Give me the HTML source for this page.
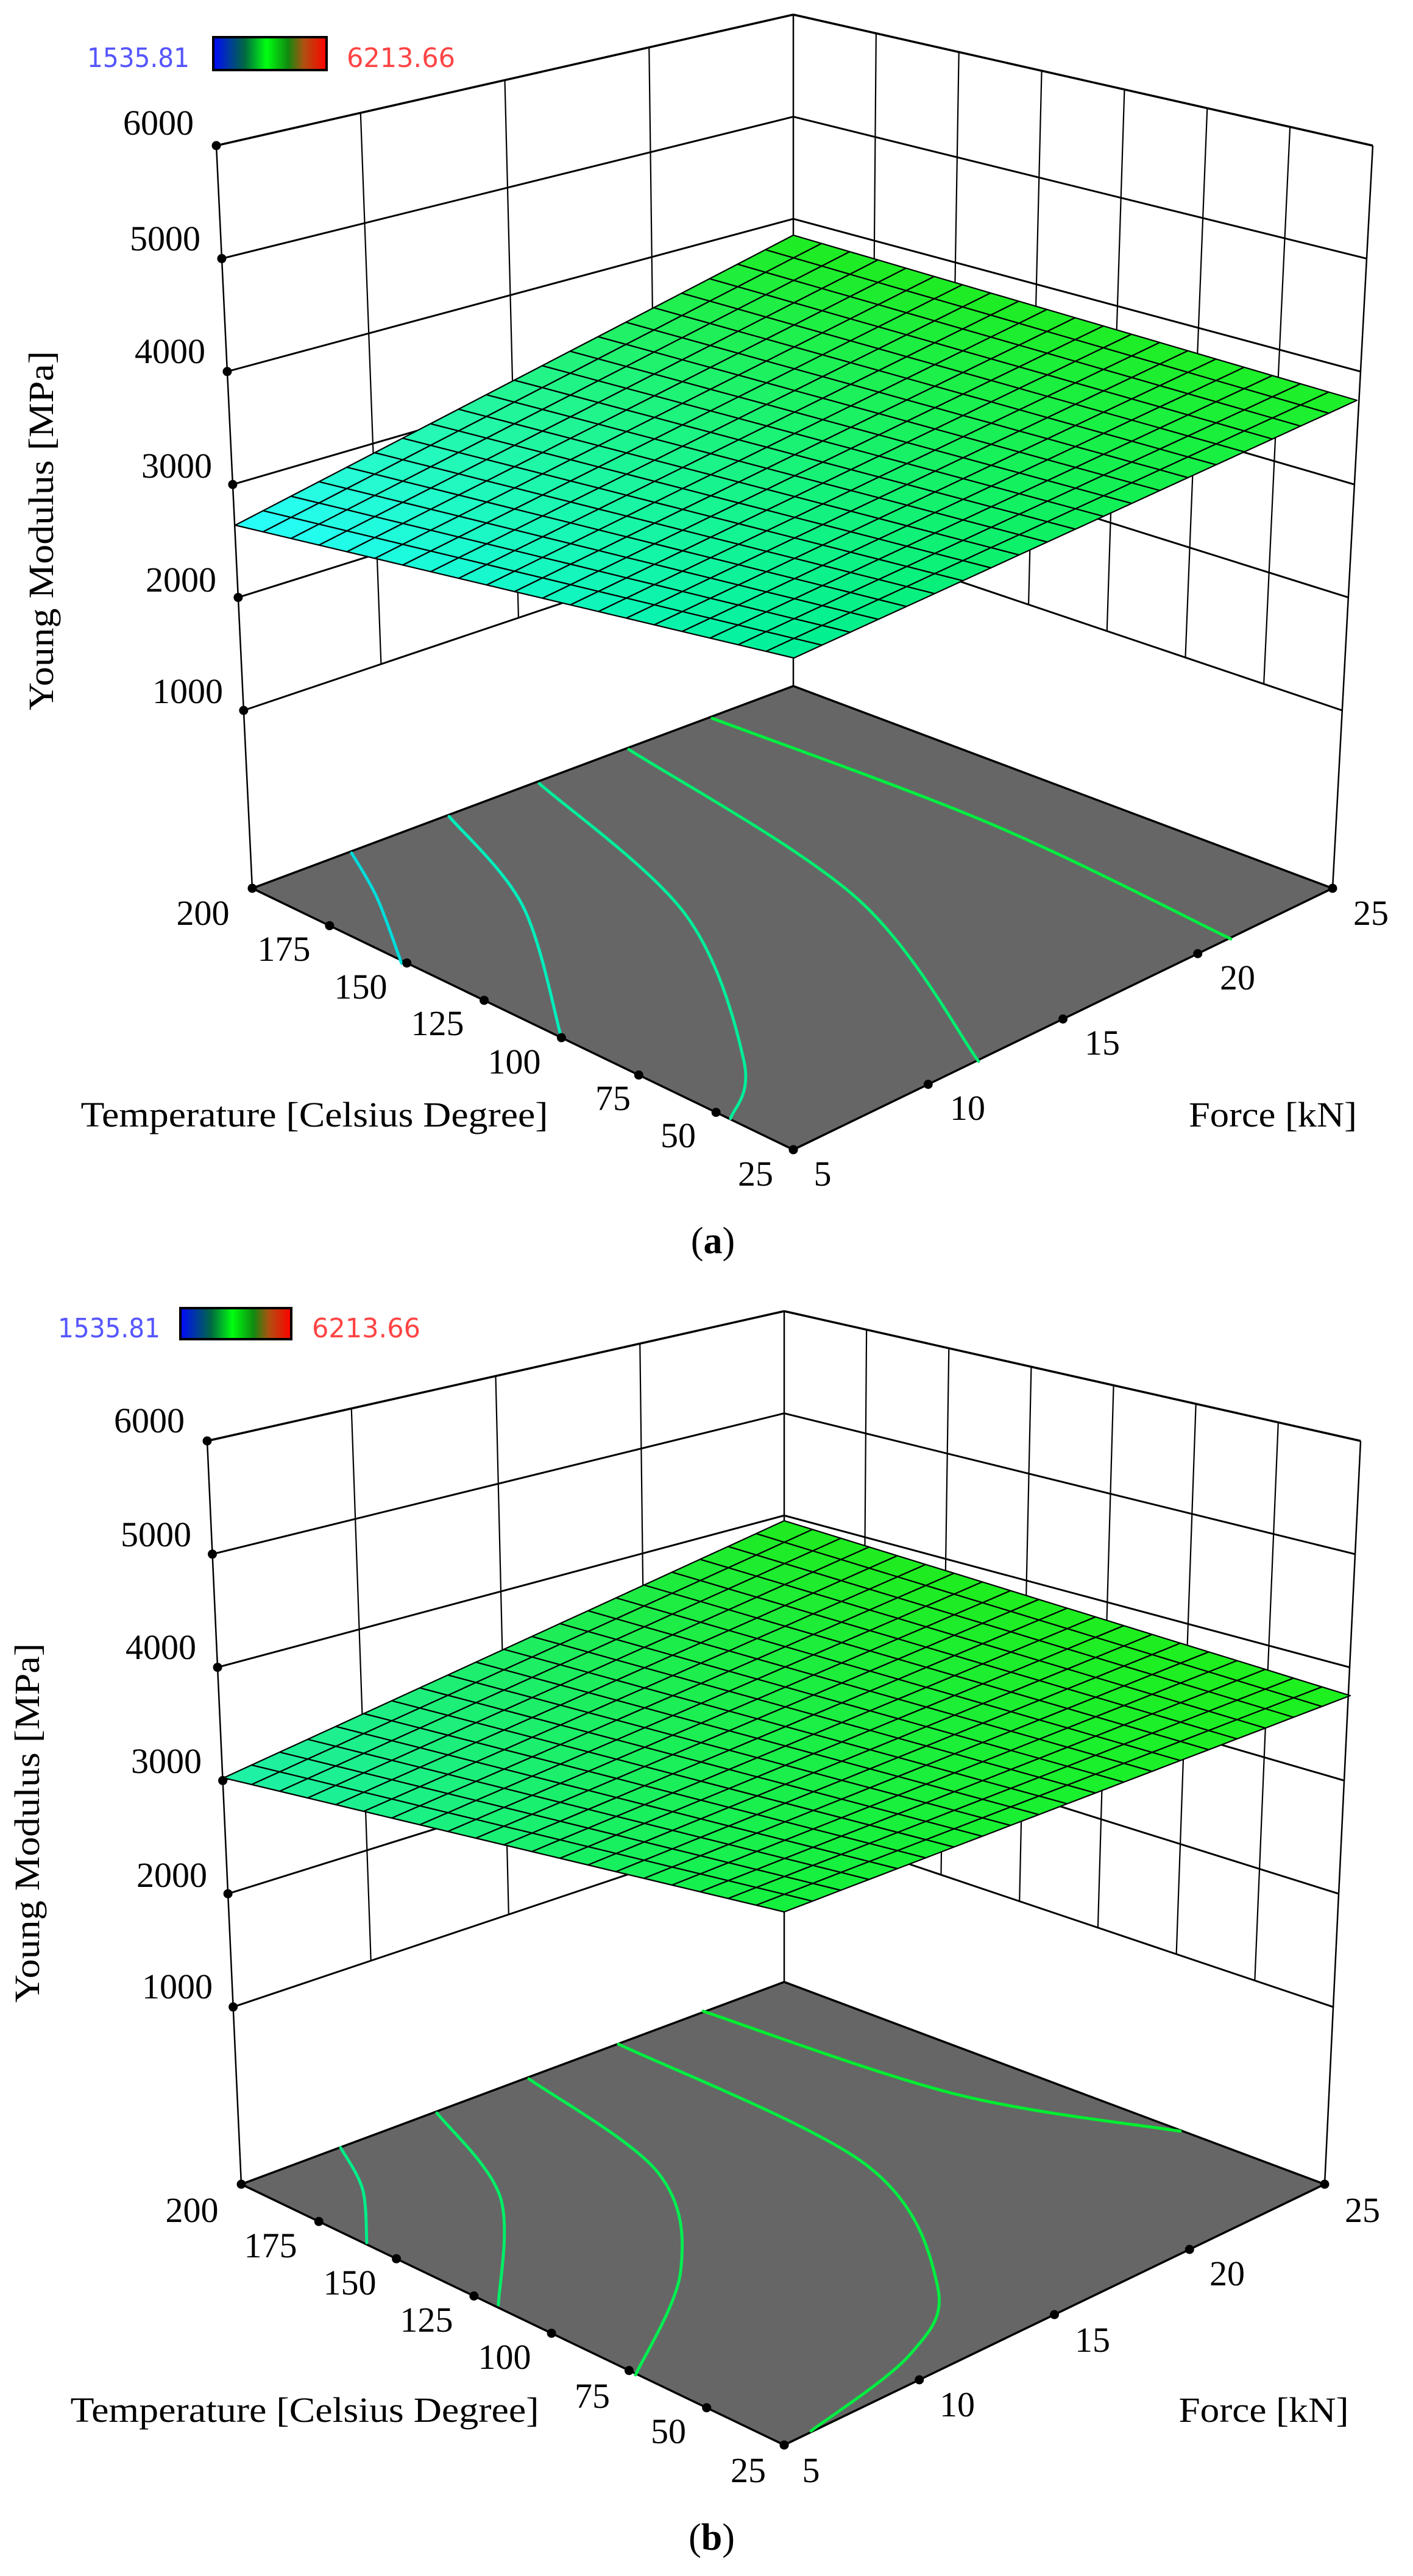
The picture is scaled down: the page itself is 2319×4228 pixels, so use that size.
<!DOCTYPE html>
<html><head><meta charset="utf-8"><style>
html,body{margin:0;padding:0;background:#fff;}
svg{display:block;}
.t{font-family:"Liberation Serif",serif;font-size:58px;fill:#000;}
.cb{font-family:"DejaVu Sans Condensed","Liberation Sans Narrow","Liberation Sans",sans-serif;font-size:44px;}
</style></head><body>
<svg id="s" width="2319" height="4228" viewBox="0 0 2319 4228" xmlns="http://www.w3.org/2000/svg">
<defs>
<linearGradient id="cg" x1="0" x2="1" y1="0" y2="0">
<stop offset="0" stop-color="#0008ff"/><stop offset="0.28" stop-color="#006a40"/><stop offset="0.47" stop-color="#00ff10"/><stop offset="0.66" stop-color="#108a10"/><stop offset="0.8" stop-color="#b05010"/><stop offset="1" stop-color="#ff0000"/>
</linearGradient>
</defs>
<g id="ga"></g><g id="gb"></g>
<!-- panel a texts -->
<text class="cb" x="143" y="110" fill="#5555ff" textLength="168" lengthAdjust="spacingAndGlyphs">1535.81</text>
<rect x="350" y="61" width="186" height="54" fill="url(#cg)" stroke="#000" stroke-width="4"/>
<text class="cb" x="569" y="110" fill="#ff4444" textLength="178" lengthAdjust="spacingAndGlyphs">6213.66</text>
<g class="t" text-anchor="end">
<text x="318" y="221">6000</text><text x="329" y="411">5000</text><text x="337" y="596">4000</text>
<text x="348" y="784">3000</text><text x="355" y="971">2000</text><text x="366" y="1154">1000</text>
</g>
<g class="t" text-anchor="middle">
<text x="333" y="1518">200</text><text x="466" y="1577">175</text><text x="592" y="1639">150</text><text x="718" y="1699">125</text>
<text x="844" y="1762">100</text><text x="1006" y="1822">75</text><text x="1113" y="1883">50</text><text x="1240" y="1946">25</text>
<text x="1350" y="1946">5</text><text x="1588" y="1838">10</text><text x="1809" y="1731">15</text><text x="2031" y="1624">20</text><text x="2250" y="1518">25</text>
<text x="516" y="1849" textLength="767" lengthAdjust="spacingAndGlyphs">Temperature [Celsius Degree]</text>
<text x="2089" y="1849" textLength="276" lengthAdjust="spacingAndGlyphs">Force [kN]</text>
<text transform="translate(87,871) rotate(-90)" textLength="590" lengthAdjust="spacingAndGlyphs">Young Modulus [MPa]</text>
<text x="1170" y="2057" font-size="62">(<tspan font-weight="bold">a</tspan>)</text>
</g>
<!-- panel b texts -->
<text class="cb" x="95" y="2195" fill="#5555ff" textLength="168" lengthAdjust="spacingAndGlyphs">1535.81</text>
<rect x="296" y="2147" width="182" height="51" fill="url(#cg)" stroke="#000" stroke-width="4"/>
<text class="cb" x="512" y="2195" fill="#ff4444" textLength="178" lengthAdjust="spacingAndGlyphs">6213.66</text>
<g class="t" text-anchor="end">
<text x="303" y="2351">6000</text><text x="314" y="2538">5000</text><text x="322" y="2723">4000</text>
<text x="331" y="2910">3000</text><text x="340" y="3097">2000</text><text x="349" y="3280">1000</text>
</g>
<g class="t" text-anchor="middle">
<text x="315" y="3647">200</text><text x="444" y="3705">175</text><text x="574" y="3766">150</text><text x="700" y="3827">125</text>
<text x="828" y="3888">100</text><text x="972" y="3952">75</text><text x="1097" y="4010">50</text><text x="1228" y="4074">25</text>
<text x="1331" y="4074">5</text><text x="1571" y="3966">10</text><text x="1793" y="3860">15</text><text x="2014" y="3751">20</text><text x="2236" y="3647">25</text>
<text x="500" y="3975" textLength="769" lengthAdjust="spacingAndGlyphs">Temperature [Celsius Degree]</text>
<text x="2074" y="3975" textLength="279" lengthAdjust="spacingAndGlyphs">Force [kN]</text>
<text transform="translate(64,2992) rotate(-90)" textLength="590" lengthAdjust="spacingAndGlyphs">Young Modulus [MPa]</text>
<text x="1168" y="4185" font-size="62">(<tspan font-weight="bold">b</tspan>)</text>
</g>
</svg>
<script>
var NS="http://www.w3.org/2000/svg";
function el(p,n,a){var e=document.createElementNS(NS,n);for(var k in a)e.setAttribute(k,a[k]);p.appendChild(e);return e;}
function lerp(a,b,t){return [a[0]+(b[0]-a[0])*t,a[1]+(b[1]-a[1])*t];}
function bil(c,t,s){ // c: L(t0s0),F(t1s0),R(t1s1),B(t0s1)
  var p0=lerp(c.L,c.F,t),p1=lerp(c.B,c.R,t);return lerp(p0,p1,s);}
function hex(c){return "#"+c.map(function(v){v=Math.max(0,Math.min(255,Math.round(v)));return (v<16?"0":"")+v.toString(16);}).join("");}
function mixc(a,b,t){return [a[0]+(b[0]-a[0])*t,a[1]+(b[1]-a[1])*t,a[2]+(b[2]-a[2])*t];}
function spline(pts){var d="M"+pts[0][0]+","+pts[0][1];
  for(var i=0;i<pts.length-1;i++){var p0=pts[i-1]||pts[i],p1=pts[i],p2=pts[i+1],p3=pts[i+2]||p2;
    var c1=[p1[0]+(p2[0]-p0[0])/6,p1[1]+(p2[1]-p0[1])/6],c2=[p2[0]-(p3[0]-p1[0])/6,p2[1]-(p3[1]-p1[1])/6];
    d+=" C"+c1[0].toFixed(1)+","+c1[1].toFixed(1)+" "+c2[0].toFixed(1)+","+c2[1].toFixed(1)+" "+p2[0]+","+p2[1];}
  return d;}
function panel(g,cfg){
  var vmin=cfg.vmin;
  function P(t,s,v){var f=bil(cfg.floor,t,s),tp=bil(cfg.top,t,s);var h=(v-vmin)/(6000-vmin);return lerp(f,tp,h);}
  function line(a,b,w){el(g,"line",{x1:a[0],y1:a[1],x2:b[0],y2:b[1],stroke:"#000","stroke-width":w||2.5});}
  // left wall t=0
  for(var v=1000;v<=6000;v+=1000){line(P(0,0,v),P(0,1,v),v==6000?3.5:3);line(P(0,1,v),P(1,1,v),v==6000?3.5:3);}
  for(var k=1;k<4;k++)line(P(0,k/4,1000),P(0,k/4,6000),2.2);
  for(var k=1;k<7;k++)line(P(k/7,1,1000),P(k/7,1,6000),2.2);
  line(P(0,0,vmin),P(0,0,6000),2.5);line(P(0,1,vmin),P(0,1,6000),2.5);line(P(1,1,vmin),P(1,1,6000),2.5);
  // floor
  var f=cfg.floor;
  el(g,"polygon",{points:[f.L,f.F,f.R,f.B].map(function(p){return p.join(",")}).join(" "),fill:"#666666",stroke:"#000","stroke-width":3.5});
  // contours
  cfg.cont.forEach(function(c){el(g,"path",{d:spline(c.p),fill:"none",stroke:c.c,"stroke-width":5,"stroke-linecap":"round"});});
  // surface
  var S=cfg.surf,N=20;
  for(var i=0;i<N;i++)for(var j=0;j<N;j++){
    var t0=i/N,t1=(i+1)/N,s0=j/N,s1=(j+1)/N;
    var q=[bil(S,t0,s0),bil(S,t1,s0),bil(S,t1,s1),bil(S,t0,s1)];
    var tm=(i+.5)/N,sm=(j+.5)/N;
    var col=mixc(mixc(S.cL,S.cF,tm),mixc(S.cB,S.cR,tm),sm);
    el(g,"polygon",{points:q.map(function(p){return p[0].toFixed(1)+","+p[1].toFixed(1)}).join(" "),fill:hex(col),stroke:"#000","stroke-width":2.2,"stroke-linejoin":"round"});
  }
  // dots
  function dot(p){el(g,"circle",{cx:p[0],cy:p[1],r:7.5,fill:"#000"});}
  for(var v=1000;v<=6000;v+=1000)dot(P(0,0,v));
  for(var k=0;k<=7;k++)dot(P(k/7,0,vmin));
  for(var k=0;k<=4;k++)dot(P(1,k/4,vmin));
}
panel(document.getElementById("ga"),{
  vmin:-575,
  floor:{L:[414,1458],F:[1302,1887],R:[2187,1458],B:[1302,1126]},
  top:{L:[355,239],F:[1302,551],R:[2253,239],B:[1302,24]},
  surf:{L:[386,862],F:[1303,1080],R:[2227,657],B:[1302,386],
        cL:[40,255,255],cF:[0,240,150],cR:[30,240,40],cB:[30,235,30]},
  cont:[
   {c:"#00dcdc",p:[[577,1400],[619,1474],[659,1581]]},
   {c:"#00eebb",p:[[737,1340],[858,1487],[921,1702]]},
   {c:"#00ee99",p:[[885,1286],[1125,1501],[1221,1742],[1199,1836]]},
   {c:"#00ee70",p:[[1032,1230],[1406,1474],[1606,1742]]},
   {c:"#00ee40",p:[[1169,1179],[1628,1353],[2020,1541]]}]
});
panel(document.getElementById("gb"),{
  vmin:-566,
  floor:{L:[396,3585],F:[1287,4013],R:[2174,3585],B:[1287,3253]},
  top:{L:[340,2365],F:[1287,2674],R:[2233,2365],B:[1287,2152]},
  surf:{L:[367,2918],F:[1287,3138],R:[2216,2783],B:[1287,2496],
        cL:[30,240,170],cF:[20,240,60],cR:[30,240,30],cB:[30,235,30]},
  cont:[
   {c:"#00ee88",p:[[559,3525],[595,3593],[602,3681]]},
   {c:"#00ee66",p:[[717,3468],[821,3606],[818,3783]]},
   {c:"#00ee50",p:[[868,3412],[1080,3566],[1117,3728],[1043,3898]]},
   {c:"#00ee40",p:[[1015,3355],[1420,3552],[1538,3749],[1494,3864],[1331,3990]]},
   {c:"#00ee30",p:[[1154,3301],[1568,3437],[1937,3498]]}]
});
</script>
</body></html>
